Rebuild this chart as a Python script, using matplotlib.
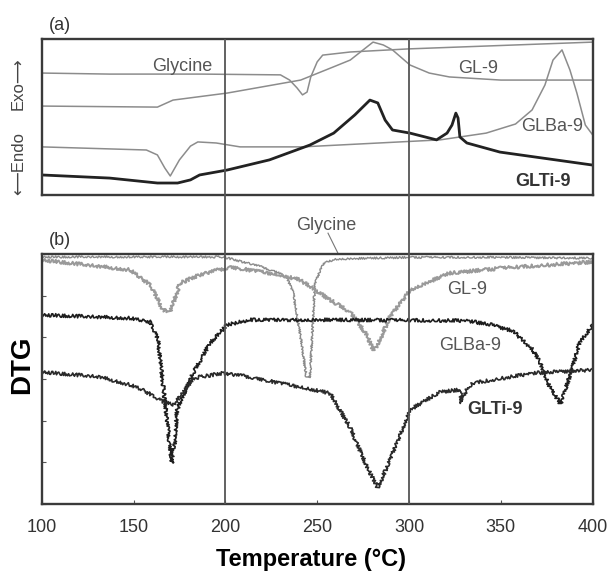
import matplotlib
matplotlib.use("Agg")
import matplotlib.pyplot as plt

plt.rcParams['font.family'] = ['Liberation Sans', 'DejaVu Sans']
NARROW = ['Liberation Sans Narrow', 'Liberation Sans', 'DejaVu Sans']

# ---- (a) DSC curves (arbitrary units, exo up) ----
a_gly_t = [100, 137, 187, 230, 235, 239, 242, 244.5, 246.5, 250, 253, 268, 300, 400]
a_gly_v = [4.69, 4.65, 4.65, 4.62, 4.42, 4.12, 3.85, 3.96, 4.54, 5.12, 5.38, 5.50, 5.62, 5.88]

a_gl9_t = [100, 163, 171.5, 201, 241, 258.6, 268, 275, 280.4, 286, 291, 300.5, 311, 322, 350, 400]
a_gl9_v = [3.42, 3.38, 3.65, 3.92, 4.42, 4.92, 5.19, 5.58, 5.88, 5.77, 5.58, 5.0, 4.69, 4.54, 4.42, 4.42]

a_glba_t = [100, 157, 163, 167, 170, 175, 181, 185, 195, 208, 242, 317, 342, 358, 367,
            374, 378.4, 383.3, 387.6, 391.4, 396, 400]
a_glba_v = [1.85, 1.73, 1.54, 1.04, 0.73, 1.35, 1.88, 2.04, 2.0, 1.85, 1.85, 2.12, 2.38, 2.73, 3.27,
            4.23, 5.19, 5.58, 4.81, 3.92, 2.69, 2.31]

a_glti_t = [100, 137, 163, 174, 181, 186, 201, 224, 246, 259, 270.5, 278.7, 283, 287, 291, 300.5,
            315, 320.7, 323.4, 325.5, 326.7, 327.7, 331.5, 349.5, 400]
a_glti_v = [0.77, 0.65, 0.46, 0.46, 0.58, 0.77, 0.96, 1.35, 1.92, 2.38, 3.08, 3.65, 3.54, 2.88, 2.5, 2.38,
            2.12, 2.38, 2.69, 3.15, 2.96, 2.23, 2.0, 1.65, 1.15]

# ---- (b) DTG curves ----
b_gly_t = [100, 150, 199, 205, 215, 222, 229, 233.4, 237, 241, 244.1, 246, 248.8, 253.3, 260, 300, 350, 400]
b_gly_v = [-0.07, -0.07, -0.07, -0.14, -0.25, -0.34, -0.45, -0.54, -0.94, -2.0, -2.94, -2.98, -0.70,
           -0.22, -0.12, -0.08, -0.08, -0.1]

b_gl9_t = [100, 148, 159, 166, 170, 175.3, 186, 202.5, 229.7, 240.6, 257, 268, 277, 280.4, 283,
           289.6, 300.5, 322, 350, 400]
b_gl9_v = [-0.14, -0.38, -0.74, -1.34, -1.39, -0.70, -0.50, -0.31, -0.50, -0.62, -1.1, -1.39, -1.94,
           -2.30, -2.18, -1.51, -0.86, -0.46, -0.34, -0.19]

b_glba_t = [100, 148, 159, 163.3, 166, 168.8, 170.9, 172.6, 173.7, 182.4, 191.6, 200.9, 213.4, 257,
            331.5, 345, 356.7, 367.4, 371.3, 376.7, 382.5, 388.5, 393, 398.5, 400]
b_glba_v = [-1.46, -1.54, -1.63, -2.06, -3.10, -4.22, -5.02, -4.46, -3.74, -2.86, -2.14, -1.70, -1.58,
            -1.58, -1.6, -1.7, -1.85, -2.3, -2.6, -3.2, -3.6, -2.8, -2.1, -1.8, -1.72]

b_glti_t = [100, 131.7, 148, 155, 166, 171.5, 176.9, 182.4, 198.7, 213.4, 229.7, 240.6, 256.9, 267.8,
            277.1, 283.1, 289.6, 300.5, 316.8, 327.7, 328.8, 331.5, 334.8, 367.4, 400]
b_glti_v = [-2.83, -2.95, -3.14, -3.26, -3.55, -3.62, -3.34, -2.98, -2.86, -2.95, -3.10, -3.19, -3.34,
            -4.15, -5.11, -5.62, -4.94, -3.74, -3.31, -3.26, -3.58, -3.26, -3.10, -2.86, -2.78]

xticks = [100, 150, 200, 250, 300, 350, 400]

fig = plt.figure(figsize=(6.07, 5.76), dpi=100)
ax_a = fig.add_axes([0.0687, 0.6615, 0.9077, 0.2708])
ax_b = fig.add_axes([0.0687, 0.125, 0.9077, 0.434])

for ax in (ax_a, ax_b):
    ax.set_xlim(100, 400)
    for s in ax.spines.values():
        s.set_color('#3a3a3a')
        s.set_linewidth(1.7)

# (a)
ax_a.set_ylim(0, 6)
ax_a.plot(a_gly_t, a_gly_v, color='#8c8c8c', lw=1.1)
ax_a.plot(a_gl9_t, a_gl9_v, color='#8c8c8c', lw=1.1)
ax_a.plot(a_glba_t, a_glba_v, color='#8c8c8c', lw=1.1)
ax_a.plot(a_glti_t, a_glti_v, color='#222222', lw=2.0)
ax_a.set_xticks([])
ax_a.set_yticks([])
lab = dict(fontsize=13, color='#555555', ha='center', va='center')
ax_a.text(176.4, 4.96, 'Glycine', **lab)
ax_a.text(337.6, 4.85, 'GL-9', **lab)
ax_a.text(377.8, 2.62, 'GLBa-9', **lab)
ax_a.text(372.9, 0.5, 'GLTi-9', fontweight='bold', fontsize=13, color='#333333', ha='center', va='center')

# (b)
ax_b.set_ylim(-6, 0)
l1, = ax_b.plot(b_gly_t, b_gly_v, color='#8a8a8a', lw=1.0)
l2, = ax_b.plot(b_gl9_t, b_gl9_v, color='#9a9a9a', lw=1.4)
l3, = ax_b.plot(b_glba_t, b_glba_v, color='#1e1e1e', lw=1.2)
l4, = ax_b.plot(b_glti_t, b_glti_v, color='#2a2a2a', lw=1.2)
l1.set_sketch_params(scale=1.0, length=1.5, randomness=3)
for ln in (l2, l3, l4):
    ln.set_sketch_params(scale=1.7, length=1.5, randomness=3)
ax_b.set_xticks(xticks)
ax_b.set_yticks(range(-6, 1))
ax_b.set_yticklabels([])
ax_b.tick_params(axis='both', direction='in', length=3, color='#555555')
ax_b.tick_params(axis='x', pad=11, labelsize=13, labelcolor='#333333')
ax_b.text(331.6, -0.86, 'GL-9', **lab)
ax_b.text(333.2, -2.2, 'GLBa-9', **lab)
ax_b.text(346.8, -3.74, 'GLTi-9', fontweight='bold', fontsize=13, color='#333333', ha='center', va='center')
ax_b.text(255, 0.48, 'Glycine', fontsize=13, color='#555555', ha='center', va='bottom', clip_on=False)
ax_b.plot([255.9, 261.3], [0.5, 0.02], color='#777777', lw=0.8, clip_on=False)

# vertical guide lines through both panels
ax_v = fig.add_axes([0.0687, 0.125, 0.9077, 0.9323 - 0.125])
ax_v.set_xlim(100, 400)
ax_v.set_ylim(0, 1)
ax_v.axis('off')
ax_v.axvline(200, color='#555555', lw=1.3)
ax_v.axvline(300, color='#555555', lw=1.3)

fig.text(0.099, 0.955, '(a)', fontsize=13, color='#333333', ha='center', va='center')
fig.text(0.098, 0.583, '(b)', fontsize=13, color='#333333', ha='center', va='center')
fig.text(0.030, 0.855, 'Exo\u27f6', rotation=90, fontsize=12, color='#444444', ha='center', va='center')
fig.text(0.030, 0.717, '\u27f5Endo', rotation=90, fontsize=12, color='#444444', ha='center', va='center')
fig.text(0.036, 0.366, 'DTG', rotation=90, fontsize=20, fontweight='bold', family=NARROW,
         ha='center', va='center')
fig.text(0.512, 0.028, 'Temperature (\u00b0C)', fontsize=17, fontweight='bold', family=NARROW,
         ha='center', va='center')

fig.savefig('out.png', dpi=100)
